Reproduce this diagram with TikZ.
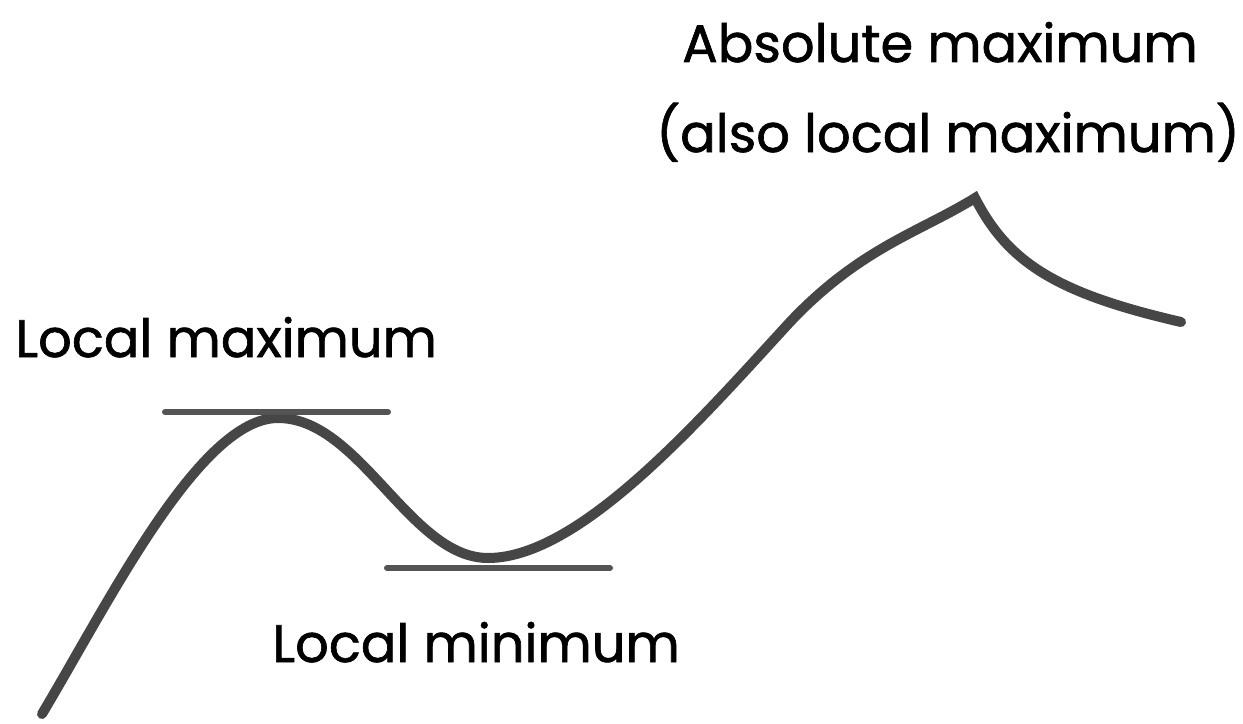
\documentclass[tikz,border=0pt]{standalone}
\usepackage{fontspec}
\setmainfont{Poppins}[FakeBold=1.2]
\usepackage{tikz}
\usetikzlibrary{positioning}
\definecolor{curvegray}{HTML}{464646}
\definecolor{tangray}{HTML}{545454}

\begin{document}
\begin{tikzpicture}[
  x=0.02cm, y=-0.02cm,
  curve/.style={draw=curvegray,line width=5.7pt,line cap=round,line join=miter},
  tangent/.style={draw=tangray,line width=3.4pt,line cap=round},
  lbl/.style={inner sep=0pt,font=\fontsize{30}{36}\selectfont,text=black}
]
\useasboundingbox (0,0) rectangle (1243,723);
% key points of the curve
\coordinate (start) at (42,714);
\coordinate (lmax) at (278,418);
\coordinate (lmin) at (488,558);
\coordinate (mid) at (790,322);
\coordinate (amax) at (975,198);
\coordinate (stop) at (1181,322);
% the function
\draw[curve] (start) .. controls (110,600) and (200,418) .. (lmax)
  .. controls (360,418) and (410,558) .. (lmin)
  .. controls (580,558) and (700,420) .. (mid)
  .. controls (860,248) and (920,232) .. (amax)
  .. controls (1008,262) and (1055,293) .. (stop);
% horizontal tangents
\draw[tangent] (165,412) -- (388,412);
\draw[tangent] (387,568) -- (610,568);
% labels
\node[lbl,anchor=base west] (maxlbl) at (15,357) {Local maximum};
\node[lbl,anchor=base west] (minlbl) at (272,662) {Local minimum};
\node[lbl,anchor=base] (abslbl) at (940,62) {Absolute maximum};
\node[lbl,anchor=base] (alsolbl) at (948,152) {(also local maximum)};
\end{tikzpicture}
\end{document}
